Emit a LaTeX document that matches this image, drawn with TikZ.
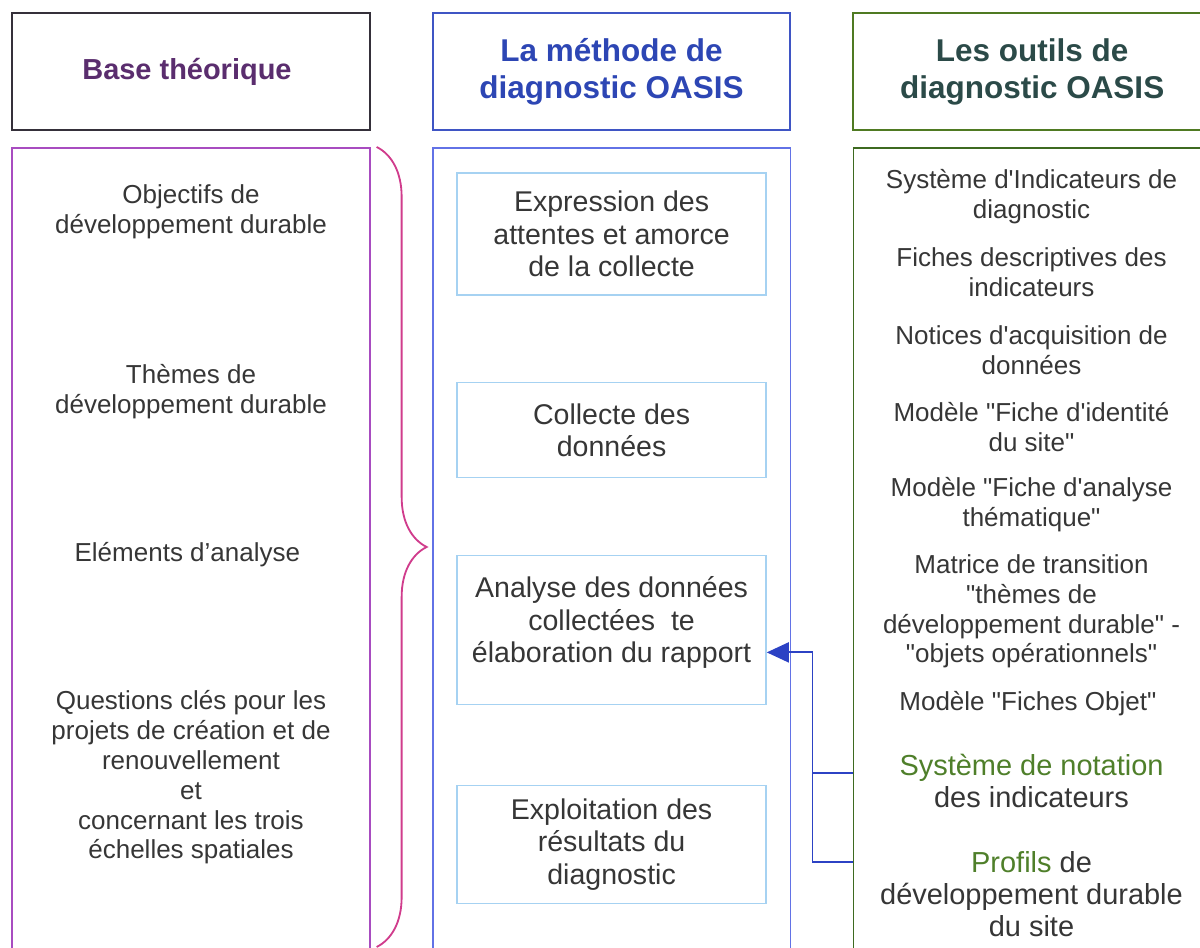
\documentclass[tikz,border=0pt]{standalone}
\usepackage{fontspec}
\setmainfont{Liberation Sans}[Ligatures=TeXOff]
\usepackage{xcolor}
\usetikzlibrary{calc,arrows.meta,positioning,decorations.pathreplacing}

\definecolor{inkgray}{HTML}{363636}
\definecolor{baseink}{HTML}{5A2D6E}
\definecolor{baseframe}{HTML}{35303A}
\definecolor{basebody}{HTML}{A84CC0}
\definecolor{bracepink}{HTML}{D03C8C}
\definecolor{methodink}{HTML}{2D46B4}
\definecolor{methodframe}{HTML}{3F55C4}
\definecolor{methodbody}{HTML}{6272E6}
\definecolor{stageblue}{HTML}{A6D2F2}
\definecolor{toolsink}{HTML}{2B4A48}
\definecolor{toolsframe}{HTML}{4F7A22}
\definecolor{toolsbody}{HTML}{3E6A20}
\definecolor{toolgreen}{HTML}{4F7F2A}
\definecolor{linkblue}{HTML}{2C42C4}

\begin{document}
\begin{tikzpicture}[
    node distance=4mm and 15.25mm,
    every node/.style={text=inkgray},
    header/.style={
        rectangle,
        draw,
        line width=1.4pt,
        align=center,
        minimum width=89.4mm,
        minimum height=29.25mm,
        font=\fontsize{22.4pt}{26.3pt}\selectfont\bfseries
    },
    column/.style={
        rectangle,
        draw,
        line width=1.2pt,
        minimum width=89.4mm,
        minimum height=204.75mm
    },
    stage/.style={
        rectangle,
        draw=stageblue,
        line width=1pt,
        align=center,
        minimum width=77.25mm,
        font=\fontsize{20.3pt}{23.1pt}\selectfont
    },
    item/.style={
        align=center,
        font=\fontsize{18.5pt}{21.2pt}\selectfont
    },
    bigitem/.style={
        align=center,
        font=\fontsize{20.6pt}{22.8pt}\selectfont
    },
    link/.style={
        draw=linkblue,
        line width=1.3pt
    },
    arrow/.style={
        link,
        -{Triangle[length=5.5mm,width=5mm]}
    },
    brace/.style={
        draw=bracepink,
        line width=1.3pt,
        decorate,
        decoration={brace, amplitude=12.5mm}
    }
]

\useasboundingbox (0,0) rectangle (30,23.675);
\clip (0,0) rectangle (30,23.675);

% =========================================================
% HEADERS
% =========================================================

\node[header, draw=baseframe, text=baseink,
      font=\fontsize{20.6pt}{24pt}\selectfont\bfseries]
    (hBase) at (4.775,21.8875) {
Base théorique
};

\node[header, draw=methodframe, text=methodink, right=of hBase] (hMethod) {
La méthode de\\
diagnostic OASIS
};

\node[header, draw=toolsframe, text=toolsink, right=of hMethod] (hTools) {
Les outils de\\
diagnostic OASIS
};


% =========================================================
% COLUMNS
% =========================================================

\node[column, draw=basebody, below=of hBase] (basecol) {};
\node[column, draw=methodbody, below=of hMethod] (methodcol) {};
\node[column, draw=toolsbody, below=of hTools] (toolscol) {};

% Brace joining the theory to the method
\coordinate (braceTop) at ([xshift=1.5mm]basecol.north east);
\draw[brace] (braceTop) -- (braceTop |- 0,0);


% =========================================================
% THEORY ITEMS
% =========================================================

\node[item] (objectifs) at (4.775,18.375) {
Objectifs de\\
développement durable
};

\node[item] (themes) at (4.775,13.875) {
Thèmes de\\
développement durable
};

\node[item] (elements) at (4.775,9.8) {
Eléments d’analyse
};

\node[item] (questions) at (4.775,4.2375) {
Questions clés pour les\\
projets de création et de\\
renouvellement\\
et\\
concernant les trois\\
échelles spatiales
};


% =========================================================
% METHOD STAGES
% =========================================================

\node[stage, minimum height=30.5mm, below=6.3mm of methodcol.north] (expression) {
Expression des\\
attentes et amorce\\
de la collecte
};

\node[stage, minimum height=23.75mm, below=21.6mm of expression] (collecte) {
Collecte des\\
données
};

\node[stage, minimum height=37.25mm, text depth=14.5pt,
      below=19.1mm of collecte] (analyse) {
Analyse des données\\
collectées\ \ te\\
élaboration du rapport
};

\node[stage, minimum height=29.5mm, below=19.85mm of analyse] (exploitation) {
Exploitation des\\
résultats du\\
diagnostic
};


% =========================================================
% TOOLS
% =========================================================

\node[item] (indicateurs) at (25.7875,18.7625) {
Système d'Indicateurs de\\
diagnostic
};

\node[item] (fiches) at (25.7875,16.8625) {
Fiches descriptives des\\
indicateurs
};

\node[item] (notices) at (25.7875,14.925) {
Notices d'acquisition de\\
données
};

\node[item] (identite) at (25.7875,13.0) {
Modèle "Fiche d'identité\\
du site"
};

\node[item] (thematique) at (25.7875,11.0625) {
Modèle "Fiche d'analyse\\
thématique"
};

\node[item] (matrice) at (25.7875,8.3875) {
Matrice de transition\\
"thèmes de\\
développement durable" -\\
"objets opérationnels"
};

\node[item] (objet) at (25.7875,6.075) {
Modèle "Fiches Objet"
};

\node[bigitem] (notation) at (25.7875,4.15) {
\textcolor{toolgreen}{Système de notation}\\
des indicateurs
};

\node[bigitem] (profils) at (25.7875,1.325) {
\textcolor{toolgreen}{Profils} de\\
développement durable\\
du site
};


% =========================================================
% TOOLS FEEDING THE ANALYSIS
% =========================================================

\coordinate (tapN) at ($(notation.west -| toolscol.west)+(0,2mm)$);
\coordinate (tapP) at ($(profils.west -| toolscol.west)+(0,8mm)$);

\draw[arrow]
    (tapN) -- ++(-10mm,0)
    |- ([yshift=-5.6mm]analyse.east);

\draw[link]
    (tapP) -| ($(tapN)+(-10mm,0)$);

\end{tikzpicture}
\end{document}
